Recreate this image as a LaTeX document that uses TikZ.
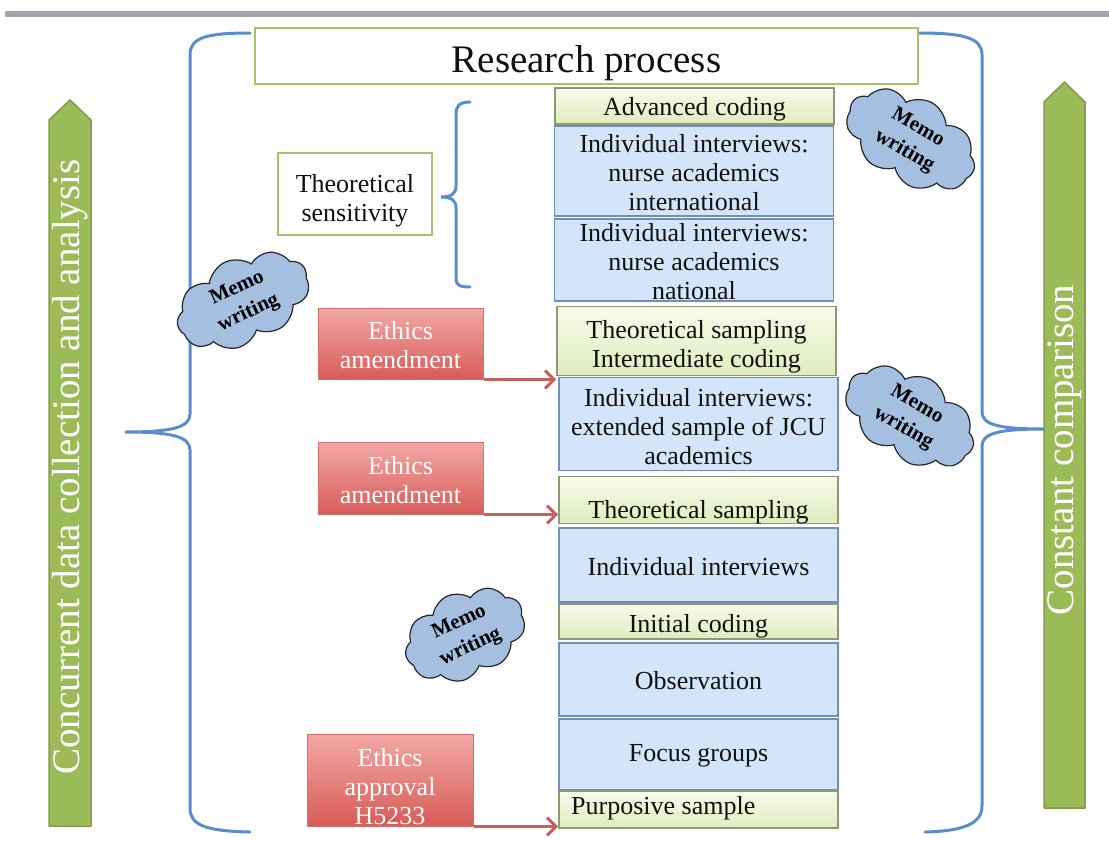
\documentclass[tikz,border=0pt]{standalone}
\usepackage{fontspec}
\setmainfont{Liberation Serif}
\usetikzlibrary{shapes.symbols,arrows.meta}
\definecolor{topbar}{HTML}{A3A6AE}
\definecolor{bracec}{HTML}{5A8DCB}
\definecolor{greenf}{HTML}{9BBB59}
\definecolor{greend}{HTML}{7E9E48}
\definecolor{titleb}{HTML}{A6C36B}
\definecolor{ytop}{HTML}{F7FBEA}
\definecolor{ybot}{HTML}{DFECBD}
\definecolor{ybord}{HTML}{8C9878}
\definecolor{bfill}{HTML}{D5E5F9}
\definecolor{bbord}{HTML}{6F8FB8}
\definecolor{rtop}{HTML}{F2A8A4}
\definecolor{rbot}{HTML}{D85C58}
\definecolor{rbord}{HTML}{D0716D}
\definecolor{rarrow}{HTML}{C95F5A}
\definecolor{cloudf}{HTML}{A5BFE0}
\definecolor{txt}{HTML}{111111}
\tikzset{
  boxtext/.style={font=\fontsize{26}{29}\selectfont, text=txt, align=center, inner sep=0pt},
  colbox/.style={inner sep=0pt, minimum width=279pt},
  ybox/.style={colbox, top color=ytop, bottom color=ybot, draw=ybord, line width=1.6pt},
  bbox/.style={colbox, fill=bfill, draw=bbord, line width=1.8pt},
  ebox/.style={inner sep=0pt, top color=rtop, bottom color=rbot, draw=rbord, line width=1pt,
    minimum width=165pt},
  etext/.style={font=\fontsize{26}{29}\selectfont, text=white, align=center, inner sep=0pt},
  brace/.style={draw=bracec, line width=3pt, line cap=round},
  garrow/.style={fill=greenf, draw=greend, line width=1.5pt, line join=round},
  glabel/.style={rotate=90, text=white, font=\fontsize{39}{44}\selectfont},
  redarr/.style={draw=rarrow, line width=3pt, -{Straight Barb[length=9pt,width=18pt]}},
  memo/.style={cloud, cloud puffs=9, cloud puff arc=115, aspect=1.8, draw=black!85,
    line width=1.2pt, fill=cloudf, inner sep=1pt, minimum width=140pt, minimum height=78pt,
    font=\bfseries\fontsize{21}{27}\selectfont, align=center}
}
\begin{document}
\begin{tikzpicture}[x=1pt,y=-1pt]
\useasboundingbox (0,0) rectangle (1109,841);
\fill[white] (0,0) rectangle (1109,841);
\fill[topbar] (5,11) rectangle (1109,17);

% green arrows
\draw[garrow] (49,826) -- (49,120) -- (70,100) -- (91,120) -- (91,826) -- cycle;
\node[glabel] (leftlab) at (70,467) {Concurrent data collection and analysis};
\draw[garrow] (1044,808) -- (1044,102) -- (1064.5,82) -- (1085,102) -- (1085,808) -- cycle;
\node[glabel] (rightlab) at (1065,450) {Constant comparison};

% big braces
\draw[brace] (250,33) .. controls (205,33) and (190,38) .. (190,55) -- (190,414)
  .. controls (190,428) and (170,432) .. (125,432)
  .. controls (170,432) and (190,436) .. (190,450) -- (190,808)
  .. controls (190,825) and (205,831) .. (250,832);
\draw[brace] (918,33) .. controls (965,33) and (982,38) .. (982,55) -- (982,412)
  .. controls (982,425) and (1000,429) .. (1044,429)
  .. controls (1000,429) and (982,433) .. (982,446) -- (982,806)
  .. controls (982,823) and (965,831) .. (925,832);

% title
\node[draw=titleb, line width=2.5pt, fill=white, minimum width=663pt, minimum height=56pt,
  inner sep=0pt] (title) at (586.5,56) {};
\node[font=\fontsize{39}{44}\selectfont, text=txt, inner sep=0pt] (titlet)
  at ([yshift=-7pt]title.center) {Research process};

% column
\node[ybox, minimum height=36pt] (adv) at (694.5,106) {};
\node[boxtext] (advt) at ([yshift=-3pt]adv.center) {Advanced coding};
\node[bbox, minimum height=90pt] (ii1) at (694,171) {};
\node[boxtext] (ii1t) at ([yshift=-2pt]ii1.center) {Individual interviews:\\nurse academics\\international};
\node[bbox, minimum height=82pt] (ii2) at (694,260) {};
\node[boxtext] (ii2t) at ([yshift=-2pt]ii2.center) {Individual interviews:\\nurse academics\\national};
\node[ybox, minimum height=69pt] (ts1) at (696.5,341) {};
\node[boxtext] (ts1t) at ([yshift=-6pt]ts1.center) {Theoretical sampling\\Intermediate coding};
\node[bbox, minimum height=93pt] (ii3) at (698.5,424) {};
\node[boxtext] (ii3t) at ([yshift=-3pt]ii3.center) {Individual interviews:\\extended sample of JCU\\academics};
\node[ybox, minimum height=47pt] (ts2) at (698.5,500) {};
\node[boxtext] (ts2t) at ([yshift=-12pt]ts2.center) {Theoretical sampling};
\node[bbox, minimum height=74pt] (ii4) at (698.5,565) {};
\node[boxtext] (ii4t) at ([yshift=-2pt]ii4.center) {Individual interviews};
\node[ybox, minimum height=35pt] (ic) at (698.5,621.5) {};
\node[boxtext] (ict) at ([yshift=-5pt]ic.center) {Initial coding};
\node[bbox, minimum height=73pt] (obs) at (698.5,679.5) {};
\node[boxtext] (obst) at ([yshift=-1pt]obs.center) {Observation};
\node[bbox, minimum height=71pt] (fg) at (698.5,754.5) {};
\node[boxtext] (fgt) at ([yshift=-1pt]fg.center) {Focus groups};
\node[ybox, minimum height=37pt] (ps) at (698.5,809.5) {};
\node[boxtext, anchor=west] (pst) at (571,808) {Purposive sample};

% theoretical sensitivity
\node[draw=titleb, line width=2pt, fill=white, minimum width=154pt, minimum height=82pt,
  inner sep=0pt] (tsens) at (355,194) {};
\node[boxtext] (tsenst) at ([yshift=-7pt]tsens.center) {Theoretical\\sensitivity};
\draw[brace] (470,102) .. controls (459,102) and (456,106) .. (456,115) -- (456,186)
  .. controls (456,194) and (451,197) .. (441,197)
  .. controls (451,197) and (456,200) .. (456,208) -- (456,278)
  .. controls (456,285) and (459,287) .. (470,287);

% ethics
\node[ebox, minimum height=71pt] (e1) at (400.5,343.5) {};
\node[etext] (e1t) at ([yshift=-2pt]e1.center) {Ethics\\amendment};
\node[ebox, minimum height=72pt] (e2) at (400.5,478) {};
\node[etext] (e2t) at ([yshift=-2pt]e2.center) {Ethics\\amendment};
\node[ebox, minimum width=166pt, minimum height=92pt] (e3) at (390,780) {};
\node[etext] (e3t) at ([yshift=-7pt]e3.center) {Ethics\\approval\\H5233};
\draw[redarr] (e1.south east) -- (e1.south east -| ts1.west);
\draw[redarr] (e2.south east) -- (e2.south east -| ts2.west);
\draw[redarr] (e3.south east) -- (e3.south east -| ps.west);

% memo clouds
\node[memo, rotate=-30] (m1) at (911,140) {Memo\\writing};
\node[memo, rotate=25] (m2) at (243,301) {Memo\\writing};
\node[memo, rotate=-30] (m3) at (910,417) {Memo\\writing};
\node[memo, rotate=25, minimum width=124pt, minimum height=70pt] (m4) at (465,635) {Memo\\writing};
\end{tikzpicture}
\end{document}
